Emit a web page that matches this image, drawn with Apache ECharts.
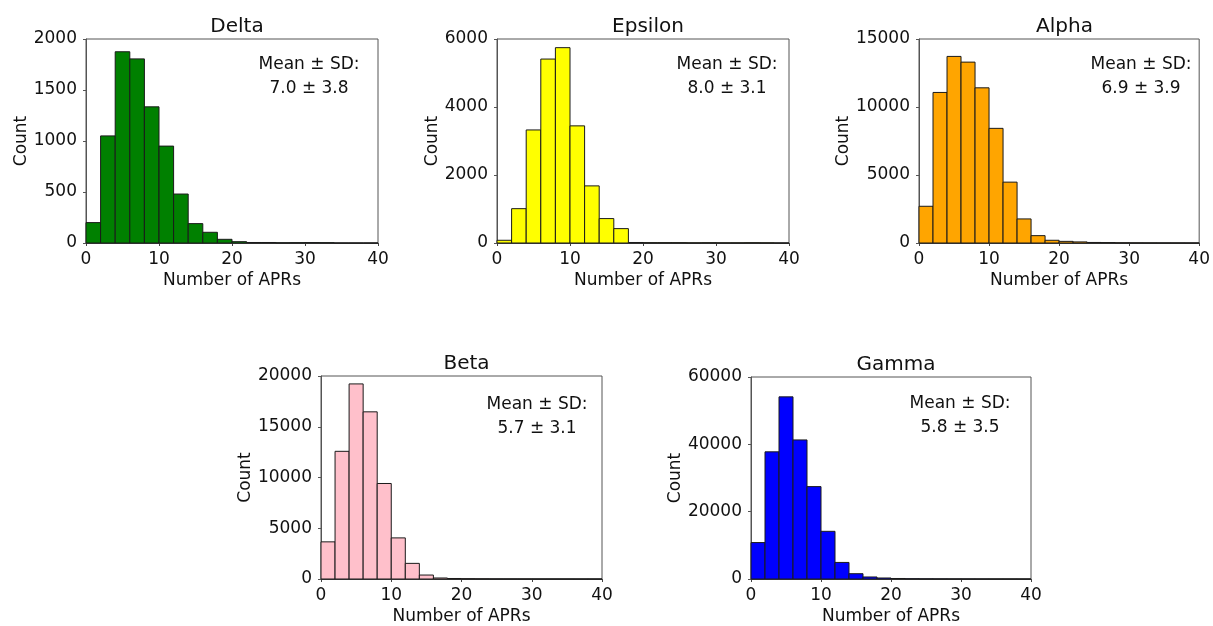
<!DOCTYPE html>
<html>
<head>
<meta charset="utf-8">
<script src="https://cdn.jsdelivr.net/npm/echarts@6/dist/echarts.min.js"></script>
<style>
html,body{margin:0;padding:0;background:#fff;}
#chart{width:1213px;height:626px;}
</style>
</head>
<body>
<div id="chart"></div>
<script>
// Histogram bins (width 2, from 0 to 40)
const binStarts = [0,2,4,6,8,10,12,14,16,18,20,22,24,26,28,30,32,34,36,38];
const binEnds   = [2,4,6,8,10,12,14,16,18,20,22,24,26,28,30,32,34,36,38,40];

const panelNames = ["Delta","Epsilon","Alpha","Beta","Gamma"];
const meanSdLabels = ["7.0 ± 3.8","8.0 ± 3.1","6.9 ± 3.9","5.7 ± 3.1","5.8 ± 3.5"];

const deltaCounts   = [200,1050,1875,1805,1335,950,480,190,105,36,13,5,5,2,3,4,3,0,0,0];
const epsilonCounts = [80,1010,3325,5410,5745,3445,1680,718,423,15,10,10,10,5,8,5,5,8,5,0];
const alphaCounts   = [2700,11070,13720,13300,11410,8430,4475,1770,540,200,120,80,40,30,15,10,8,5,5,3];
const betaCounts    = [3660,12580,19220,16470,9410,4050,1540,390,100,50,30,20,10,8,5,3,2,2,1,1];
const gammaCounts   = [10820,37770,54100,41310,27440,14160,4920,1570,600,300,150,80,50,30,20,15,10,5,5,3];

const xTicks = [0,10,20,30,40];
const yMaxes = [2000,6000,15000,20000,60000];
const yIntervals = [500,2000,5000,5000,20000];

const allCounts = [deltaCounts, epsilonCounts, alphaCounts, betaCounts, gammaCounts];
const colors = ["#008000","#ffff00","#ffa500","#ffc0cb","#0000ff"];

// Layout
const grids = [
  {left:86, top:39, width:292, height:204},
  {left:497, top:39, width:292, height:204},
  {left:919, top:39, width:281, height:204},
  {left:321, top:376, width:281, height:204},
  {left:751, top:377, width:280, height:204}
];
const yNameGaps = [49,49,60,61,62];
const annot = [
  {cx:304, top:48},
  {cx:722, top:48},
  {cx:1136, top:48},
  {cx:532, top:388},
  {cx:955, top:387}
];
const FONT = "DejaVu Sans";

const option = {
  backgroundColor:'#fff',
  animation:false,
  title:[],
  grid:[],
  xAxis:[],
  yAxis:[],
  series:[]
};

panelNames.forEach((name,i)=>{
  const g = grids[i];
  option.grid.push({left:g.left, top:g.top, width:g.width, height:g.height, show:true, borderColor:'#555', borderWidth:1, backgroundColor:'transparent'});
  option.title.push({
    text:name, left:g.left + g.width/2, top:g.top - 27, textAlign:'center',
    textStyle:{fontFamily:FONT, fontSize:20, fontWeight:'normal', color:'#111'}
  });
  option.title.push({
    text:'Mean ± SD:\n' + meanSdLabels[i], left:annot[i].cx, top:annot[i].top, textAlign:'center',
    textStyle:{fontFamily:FONT, fontSize:17, fontWeight:'normal', color:'#111', lineHeight:24, align:'center'}
  });
  option.xAxis.push({
    gridIndex:i, type:'value', min:xTicks[0], max:xTicks[xTicks.length-1], interval:10,
    name:'Number of APRs', nameLocation:'middle', nameGap:29,
    nameTextStyle:{fontFamily:FONT, fontSize:17, color:'#111'},
    axisLine:{show:true, onZero:false, lineStyle:{color:'#444', width:1}},
    axisTick:{show:true, length:3, lineStyle:{color:'#444'}},
    axisLabel:{fontFamily:FONT, fontSize:17, color:'#111', margin:8},
    splitLine:{show:false}
  });
  option.yAxis.push({
    gridIndex:i, type:'value', min:0, max:yMaxes[i], interval:yIntervals[i],
    name:'Count', nameLocation:'middle', nameGap:yNameGaps[i],
    nameTextStyle:{fontFamily:FONT, fontSize:17, color:'#111'},
    axisLine:{show:true, lineStyle:{color:'#555', width:1}},
    axisTick:{show:true, length:3, lineStyle:{color:'#555'}},
    axisLabel:{fontFamily:FONT, fontSize:17, color:'#111', margin:9, formatter:function(v){return String(v);}},
    splitLine:{show:false}
  });
  const data = binStarts.map((s,k)=>[s, binEnds[k], allCounts[i][k]]);
  const col = colors[i];
  option.series.push({
    type:'custom', xAxisIndex:i, yAxisIndex:i,
    encode:{x:[0,1], y:2},
    data:data,
    renderItem:function(params, api){
      const x0 = api.value(0), x1 = api.value(1), y = api.value(2);
      const p0 = api.coord([x0, y]);
      const p1 = api.coord([x1, 0]);
      return {
        type:'rect',
        shape:{x:p0[0], y:p0[1], width:p1[0]-p0[0], height:p1[1]-p0[1]},
        style:{fill:col, stroke:'#1a1a1a', lineWidth:1}
      };
    }
  });
});

const chart = echarts.init(document.getElementById('chart'), null, {renderer:'canvas'});
chart.setOption(option);
</script>
</body>
</html>
